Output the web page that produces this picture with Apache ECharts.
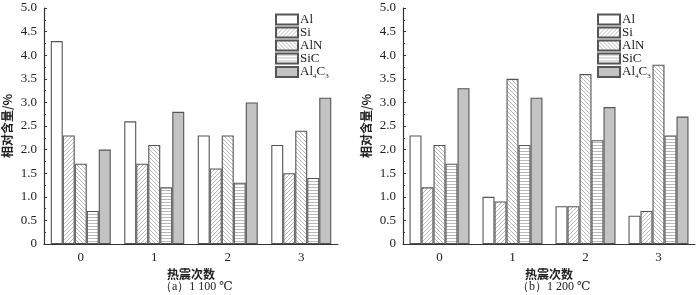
<!DOCTYPE html>
<html>
<head>
<meta charset="utf-8">
<script src="https://cdn.jsdelivr.net/npm/echarts@6/dist/echarts.min.js"></script>
<style>
  html, body { margin: 0; padding: 0; background: #fff; }
  #chart { width: 700px; height: 295px; }
</style>
</head>
<body>
<div id="chart"></div>
<script>
// 热震次数
const cycles = ['0', '1', '2', '3'];
const phases = ['Al', 'Si', 'AlN', 'SiC', 'Al4C3'];

// (a) 1 100 ℃
const al1100 = [4.3, 2.6, 2.3, 2.1];
const si1100 = [2.3, 1.7, 1.6, 1.5];
const aln1100 = [1.7, 2.1, 2.3, 2.4];
const sic1100 = [0.7, 1.2, 1.3, 1.4];
const al4c3_1100 = [2.0, 2.8, 3.0, 3.1];

// (b) 1 200 ℃
const al1200 = [2.3, 1.0, 0.8, 0.6];
const si1200 = [1.2, 0.9, 0.8, 0.7];
const aln1200 = [2.1, 3.5, 3.6, 3.8];
const sic1200 = [1.7, 2.1, 2.2, 2.3];
const al4c3_1200 = [3.3, 3.1, 2.9, 2.7];

const serif = '"Liberation Serif", "DejaVu Serif", serif';
const cjk = '"Noto Sans CJK SC", sans-serif';

/* 画填充纹理 */
function makePattern(kind) {
  const c = document.createElement('canvas');
  const s = kind === 'h' ? 3 : 4;
  c.width = s; c.height = s;
  const ctx = c.getContext('2d');
  ctx.fillStyle = '#fff';
  ctx.fillRect(0, 0, s, s);
  ctx.strokeStyle = '#a2a2a2';
  ctx.lineWidth = 0.75;
  ctx.beginPath();
  if (kind === 'h') {
    ctx.moveTo(0, 1.5); ctx.lineTo(s, 1.5);
  } else if (kind === '/') {
    ctx.moveTo(-1, s + 1); ctx.lineTo(s + 1, -1);
    ctx.moveTo(-1, 1); ctx.lineTo(1, -1);
    ctx.moveTo(s - 1, s + 1); ctx.lineTo(s + 1, s - 1);
  } else {
    ctx.moveTo(-1, -1); ctx.lineTo(s + 1, s + 1);
    ctx.moveTo(-1, s - 1); ctx.lineTo(1, s + 1);
    ctx.moveTo(s - 1, -1); ctx.lineTo(s + 1, 1);
  }
  ctx.stroke();
  return { image: c, repeat: 'repeat' };
}

const fills = {
  'Al': '#ffffff',
  'Si': makePattern('/'),
  'AlN': makePattern('\\'),
  'SiC': makePattern('h'),
  'Al4C3': '#c3c3c3'
};

function barSeries(name, data, idx) {
  return {
    name: name,
    type: 'bar',
    xAxisIndex: idx,
    yAxisIndex: idx,
    data: data,
    barWidth: 12,
    barGap: '0%',
    itemStyle: { color: fills[name], borderColor: '#555', borderWidth: 1.1 },
    emphasis: { disabled: true }
  };
}

function legendAt(left) {
  return {
    orient: 'vertical',
    left: left,
    top: 8,
    itemWidth: 22,
    itemHeight: 10,
    itemGap: 0,
    icon: 'rect',
    data: phases,
    textStyle: {
      fontFamily: serif, fontSize: 13, color: '#222', lineHeight: 12.7, padding: [0, 0, 0, -3],
      rich: {
        m: { fontFamily: serif, fontSize: 13, color: '#222', lineHeight: 14 },
        s: { fontFamily: serif, fontSize: 7, color: '#222', lineHeight: 7, verticalAlign: 'top', padding: [8, 0, 0, 0] }
      }
    },
    formatter: n => n === 'Al4C3' ? '{m|Al}{s|4}{m|C}{s|3}' : n
  };
}

function xAxisFor(idx, name) {
  return {
    type: 'category', gridIndex: idx, data: cycles,
    axisLine: { lineStyle: { color: '#333', width: 1.2 } },
    axisTick: { inside: true, length: 3, lineStyle: { color: '#333' } },
    axisLabel: { fontFamily: serif, fontSize: 13, color: '#222', margin: 7 },
    name: name, nameLocation: 'middle', nameGap: 22,
    nameTextStyle: { fontFamily: cjk, fontSize: 12, fontWeight: 'bold', color: '#222' }
  };
}

function yAxisFor(idx) {
  return {
    type: 'value', gridIndex: idx, min: 0, max: 5, interval: 0.5,
    axisLine: { show: true, lineStyle: { color: '#333', width: 1.2 } },
    axisTick: { show: true, inside: true, length: 3, lineStyle: { color: '#333' } },
    minorTick: { show: true, splitNumber: 2, length: 2, lineStyle: { color: '#333' } },
    splitLine: { show: false },
    axisLabel: {
      fontFamily: serif, fontSize: 13, color: '#222', margin: 7,
      formatter: v => v === 0 ? '0' : v.toFixed(1)
    },
    name: '相对含量/%', nameLocation: 'middle', nameGap: 31,
    nameTextStyle: { fontFamily: cjk, fontSize: 12, fontWeight: 'bold', color: '#222' }
  };
}

const chart = echarts.init(document.getElementById('chart'));
chart.setOption({
  animation: false,
  grid: [
    { left: 43, right: 362, top: 8, bottom: 51 },
    { left: 403, right: 5, top: 8, bottom: 51 }
  ],
  legend: [legendAt(270), legendAt(592)],
  xAxis: [xAxisFor(0, '热震次数'), xAxisFor(1, '热震次数')],
  yAxis: [yAxisFor(0), yAxisFor(1)],
  graphic: [
    { type: 'text', left: 160, top: 281, style: { text: '（a）1 100 ℃', font: '12px ' + serif, fill: '#222' } },
    { type: 'text', left: 517, top: 281, style: { text: '（b）1 200 ℃', font: '12px ' + serif, fill: '#222' } }
  ],
  series: [
    barSeries('Al', al1100, 0),
    barSeries('Si', si1100, 0),
    barSeries('AlN', aln1100, 0),
    barSeries('SiC', sic1100, 0),
    barSeries('Al4C3', al4c3_1100, 0),
    barSeries('Al', al1200, 1),
    barSeries('Si', si1200, 1),
    barSeries('AlN', aln1200, 1),
    barSeries('SiC', sic1200, 1),
    barSeries('Al4C3', al4c3_1200, 1)
  ]
});
</script>
</body>
</html>
